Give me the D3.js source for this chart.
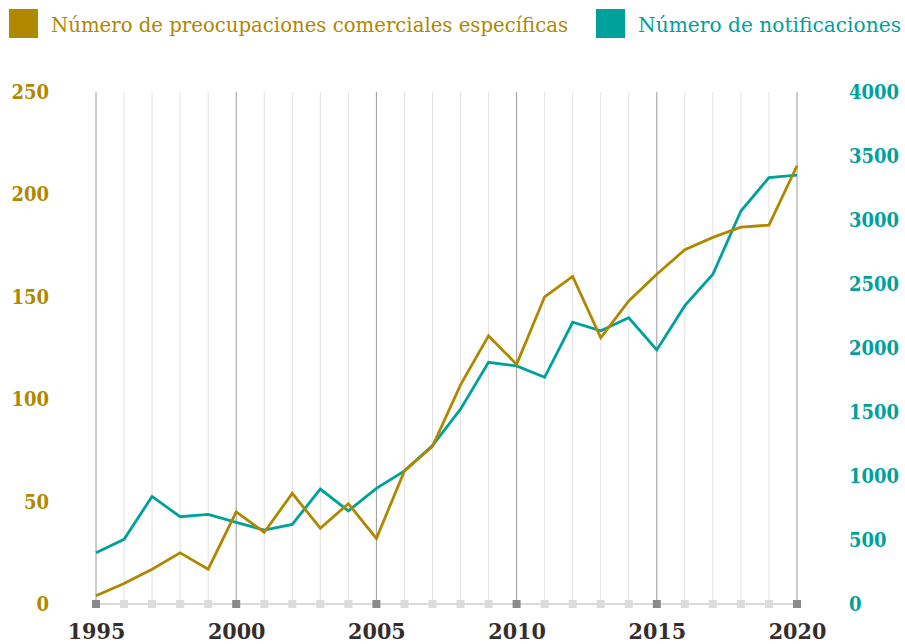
<!DOCTYPE html>
<html>
<head>
<meta charset="utf-8">
<script src="https://cdn.jsdelivr.net/npm/d3@7"></script>
<style>
  body { margin: 0; background: #fff; }
  svg { display: block; }
</style>
</head>
<body>
<div id="chart"></div>
<script>
// Data
const years = d3.range(1995, 2021);
const concerns = [4, 10, 17, 25, 17, 45, 35, 54, 37, 49, 32, 65, 77, 107, 131, 117, 150, 160, 130, 148, 161, 173, 179, 184, 185, 214];
const notifications = [400, 505, 840, 682, 700, 638, 578, 622, 898, 727, 904, 1040, 1238, 1522, 1888, 1860, 1771, 2201, 2134, 2236, 1985, 2331, 2576, 3070, 3331, 3350];
const leftTicks = [0, 50, 100, 150, 200, 250];
const rightTicks = [0, 500, 1000, 1500, 2000, 2500, 3000, 3500, 4000];
const yearTicks = [1995, 2000, 2005, 2010, 2015, 2020];
const legendLabels = ["Número de preocupaciones comerciales específicas", "Número de notificaciones"];

const gold = "#b08800", teal = "#00a19b";
const W = 905, H = 644;
const margin = { top: 92, right: 108, bottom: 40, left: 96 };
const width = W - margin.left - margin.right,
    height = H - margin.top - margin.bottom;

const svg = d3.select("#chart")
    .append("svg")
    .attr("width", W)
    .attr("height", H);

const g = svg.append("g")
    .attr("transform", `translate(${margin.left}, ${margin.top})`);

const x = d3.scaleLinear().domain([1995, 2020]).range([0, width]);
const yL = d3.scaleLinear().domain([0, 250]).range([height, 0]);
const yR = d3.scaleLinear().domain([0, 4000]).range([height, 0]);

const numFont = "'DejaVu Serif Condensed', 'DejaVu Serif', serif";

// vertical grid lines, one per year
g.selectAll(".vgrid")
    .data(years)
    .join("line")
    .attr("x1", d => x(d)).attr("x2", d => x(d))
    .attr("y1", 0).attr("y2", height)
    .attr("stroke", d => d % 5 === 0 ? "#9a9a9a" : "#e2e2e2")
    .attr("stroke-width", 1);

// baseline
g.append("line")
    .attr("x1", x(1995)).attr("x2", x(2020))
    .attr("y1", height).attr("y2", height)
    .attr("stroke", "#cfcfcf")
    .attr("stroke-width", 1.5);

// tick squares along the baseline
g.selectAll(".tsq")
    .data(years)
    .join("rect")
    .attr("x", d => x(d) - 4)
    .attr("y", height - 4)
    .attr("width", 8).attr("height", 8)
    .attr("fill", d => d % 5 === 0 ? "#8a8a8a" : "#dcdcdc");

// year labels
const xAxis = g.append("g")
    .attr("transform", `translate(0, ${height})`)
    .call(d3.axisBottom(x).tickValues(yearTicks).tickFormat(d3.format("d")).tickSize(0).tickPadding(19));
xAxis.select(".domain").remove();
xAxis.selectAll("text")
    .attr("fill", "#352d2b")
    .style("font-family", numFont)
    .style("font-weight", "bold")
    .style("font-size", "23px");

// left axis
const leftAxis = g.append("g")
    .attr("transform", `translate(${-47}, 0)`)
    .call(d3.axisLeft(yL).tickValues(leftTicks).tickSize(0).tickPadding(0));
leftAxis.select(".domain").remove();
leftAxis.selectAll("text")
    .attr("fill", gold)
    .style("font-family", numFont)
    .style("font-weight", "bold")
    .style("font-size", "20px");

// right axis
const rightAxis = g.append("g")
    .attr("transform", `translate(${width + 52}, 0)`)
    .call(d3.axisRight(yR).tickValues(rightTicks).tickFormat(d3.format("d")).tickSize(0).tickPadding(0));
rightAxis.select(".domain").remove();
rightAxis.selectAll("text")
    .attr("fill", teal)
    .style("font-family", numFont)
    .style("font-weight", "bold")
    .style("font-size", "20px");

// lines
const lineR = d3.line()
    .x((d, i) => x(years[i]))
    .y(d => yR(d));
const lineL = d3.line()
    .x((d, i) => x(years[i]))
    .y(d => yL(d));

g.append("path")
    .datum(notifications)
    .attr("fill", "none")
    .attr("stroke", teal)
    .attr("stroke-width", 2.8)
    .attr("d", lineR);

g.append("path")
    .datum(concerns)
    .attr("fill", "none")
    .attr("stroke", gold)
    .attr("stroke-width", 2.8)
    .attr("d", lineL);

// legend
const legend = [
    { label: legendLabels[0], color: gold, sx: 9, tx: 51, tw: 517 },
    { label: legendLabels[1], color: teal, sx: 596, tx: 638, tw: 263 }
];
const lg = svg.append("g");
lg.selectAll("rect")
    .data(legend)
    .join("rect")
    .attr("x", d => d.sx).attr("y", 9)
    .attr("width", 29).attr("height", 29)
    .attr("fill", d => d.color);
lg.selectAll("text")
    .data(legend)
    .join("text")
    .attr("x", d => d.tx).attr("y", 32)
    .attr("fill", d => d.color)
    .attr("textLength", d => d.tw)
    .attr("lengthAdjust", "spacingAndGlyphs")
    .style("font-family", numFont)
    .style("font-size", "21px")
    .text(d => d.label);
</script>
</body>
</html>
